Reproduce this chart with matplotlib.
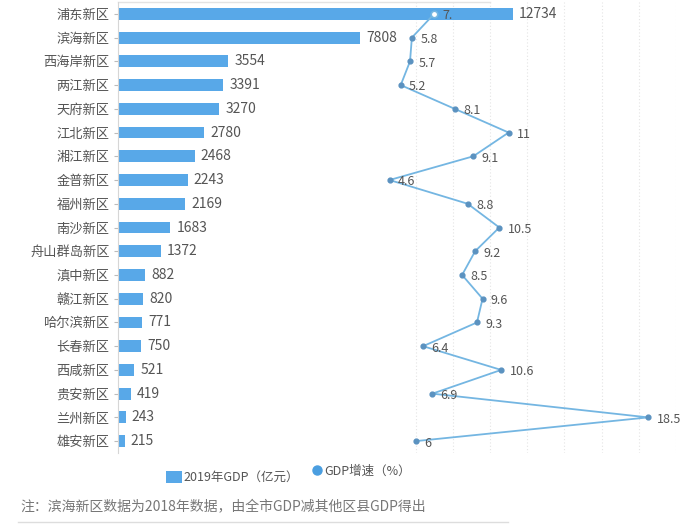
import matplotlib
matplotlib.use("Agg")
import matplotlib.pyplot as plt
from matplotlib.lines import Line2D
from matplotlib.patches import Rectangle

plt.rcParams["font.family"] = ["Noto Sans CJK SC", "DejaVu Sans"]

districts = ["浦东新区", "滨海新区", "西海岸新区", "两江新区", "天府新区", "江北新区",
             "湘江新区", "金普新区", "福州新区", "南沙新区", "舟山群岛新区", "滇中新区",
             "赣江新区", "哈尔滨新区", "长春新区", "西咸新区", "贵安新区", "兰州新区", "雄安新区"]
gdp_2019 = [12734, 7808, 3554, 3391, 3270, 2780, 2468, 2243, 2169, 1683, 1372, 882,
            820, 771, 750, 521, 419, 243, 215]
growth = [7, 5.8, 5.7, 5.2, 8.1, 11, 9.1, 4.6, 8.8, 10.5, 9.2, 8.5, 9.6, 9.3, 6.4,
          10.6, 6.9, 18.5, 6]
growth_labels = ["7.", "5.8", "5.7", "5.2", "8.1", "11", "9.1", "4.6", "8.8", "10.5", "9.2",
                 "8.5", "9.6", "9.3", "6.4", "10.6", "6.9", "18.5", "6"]

bar_color = "#58a8e8"
line_color = "#74b6e2"
marker_color = "#5b92c0"
text_color = "#555555"

W, H = 694, 527
fig = plt.figure(figsize=(W / 100, H / 100), dpi=100)
ax = fig.add_axes([118 / W, 1 - 453 / H, (676 - 118) / W, (453 - 2) / H])

GDP_MAX = 18000
G_MIN, G_MAX = -10, 20

# faint dotted grid (at even growth values), kept behind the bars
for g in range(6, 21, 2):
    ax.axvline((g - G_MIN) / (G_MAX - G_MIN) * GDP_MAX, color="#e4e4e4", lw=0.8,
               ls=(0, (1, 2)), zorder=0)

pos = list(range(len(districts)))
ax.barh(pos, gdp_2019, height=0.5, color=bar_color, zorder=2)
for p, v in zip(pos, gdp_2019):
    ax.text(v + 200, p, str(v), va="center", ha="left", fontsize=10, color=text_color, zorder=3)

ax.set_xlim(0, GDP_MAX)
ax.set_ylim(len(districts) - 0.5, -0.5)
ax.set_yticks(pos)
ax.set_yticklabels(districts, fontsize=9.5, color=text_color)
ax.tick_params(axis="y", length=3, color="#bbbbbb", pad=3)
ax.set_xticks([])
for s in ["right", "bottom", "top"]:
    ax.spines[s].set_visible(False)
ax.spines["left"].set_color("#d6d6d6")
ax.plot([0, 12000], [-0.5, -0.5], color="#e3e3e3", lw=1, clip_on=False)

# growth line on a second x-axis
ax2 = ax.twiny()
ax2.set_xlim(G_MIN, G_MAX)
ax2.set_ylim(len(districts) - 0.5, -0.5)
ax2.plot(growth, pos, color=line_color, lw=1.3, zorder=4)
ax2.scatter(growth[1:], pos[1:], s=12, color=marker_color, zorder=5)
ax2.scatter(growth[:1], pos[:1], s=22, facecolor="white", edgecolor=line_color, lw=1.2, zorder=5)
for g, p, lab in zip(growth, pos, growth_labels):
    ax2.text(g + 0.45, p + 0.08, lab, va="center", ha="left", fontsize=9, color=text_color, zorder=6)
ax2.set_xticks([])
for s in ax2.spines.values():
    s.set_visible(False)

# legend drawn by hand
fig.add_artist(Rectangle((166 / W, 1 - 483 / H), 16 / W, 12 / H, transform=fig.transFigure,
                         facecolor=bar_color, edgecolor="none"))
fig.text(183 / W, 1 - 477 / H, "2019年GDP（亿元）", fontsize=9, color=text_color,
         va="center", ha="left")
fig.add_artist(Line2D([317 / W], [1 - 470 / H], marker="o", markersize=6.5, color="#4a9ee0",
                      ls="none", transform=fig.transFigure))
fig.text(324 / W, 1 - 471 / H, "GDP增速（%）", fontsize=9, color=text_color,
         va="center", ha="left")

fig.text(20 / W, 1 - 506 / H, "注：滨海新区数据为2018年数据，由全市GDP减其他区县GDP得出",
         fontsize=10, color="#777777", va="center", ha="left")
fig.add_artist(Line2D([18 / W, 508 / W], [1 - 522 / H, 1 - 522 / H], color="#dddddd", lw=1))

fig.savefig("out.png", dpi=100)
